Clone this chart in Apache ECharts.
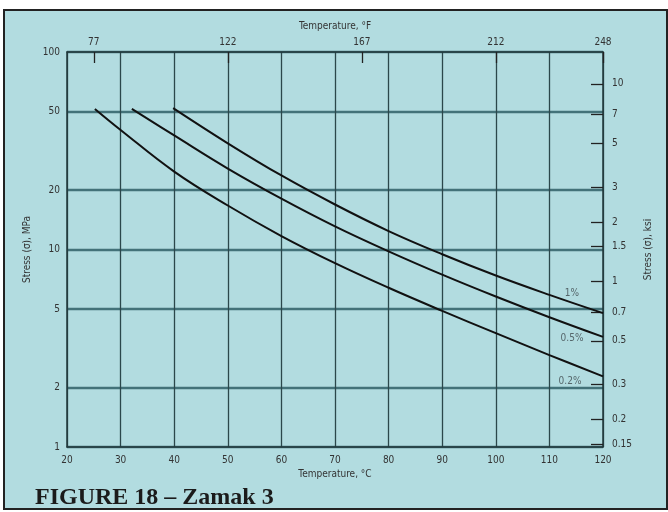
<!DOCTYPE html>
<html><head><meta charset="utf-8">
<script src="https://cdn.jsdelivr.net/npm/echarts@6/dist/echarts.min.js"></script>
<style>
html,body{margin:0;padding:0;background:#fff;}
#wrap{position:relative;width:668px;height:512px;overflow:hidden;}
#frame{position:absolute;left:3px;top:9px;width:661px;height:497px;background:#b2dce0;border:2px solid #222;}
#main{position:absolute;left:0;top:0;width:668px;height:512px;}
</style></head><body>
<div id="wrap"><div id="frame"></div><div id="main"></div></div>
<script>
// Temperature (°C) and stress (MPa) for each creep-strain curve
const temp1pct   = [39.8, 50, 60, 70, 80, 90, 100, 110, 120];
const stress1pct = [52, 34.5, 23.7, 16.9, 12.4, 9.46, 7.38, 5.89, 4.76];
const temp05pct   = [32.1, 40, 50, 60, 70, 80, 90, 100, 110, 120];
const stress05pct = [51.5, 37.8, 25.7, 18.1, 13.1, 9.79, 7.46, 5.78, 4.54, 3.61];
const temp02pct   = [25.2, 30, 40, 50, 60, 70, 80, 90, 100, 110, 120];
const stress02pct = [51.5, 40.3, 24.8, 16.7, 11.7, 8.53, 6.40, 4.89, 3.77, 2.92, 2.28];
const curveNames = ['1%', '0.5%', '0.2%'];
// Tick labels
const ticksMPa = [1, 2, 5, 10, 20, 50, 100];
const ticksKsi = [0.15, 0.2, 0.3, 0.5, 0.7, 1, 1.5, 2, 3, 5, 7, 10];
const ticksF = [77, 122, 167, 212, 248];
const MPA_PER_KSI = 6.895;

const FONT = "'Liberation Sans Narrow','DejaVu Sans Condensed','Liberation Sans',sans-serif";
const TXT = '#333';
const txt = (s) => ({fontFamily: FONT, fontSize: s, color: TXT});
const fmt = (v) => String(+(+v).toPrecision(3));

function pairs(t, s) { return t.map((x, i) => [x, s[i]]); }
const curves = [[temp1pct, stress1pct], [temp05pct, stress05pct], [temp02pct, stress02pct]];
const labelOffsets = [[-31, -20], [-31, 2], [-33, 5]];

const chart = echarts.init(document.getElementById('main'), null, {renderer: 'canvas'});
const option = {
  animation: false,
  backgroundColor: 'transparent',
  title: {
    text: 'FIGURE 18 – Zamak 3', left: 30, top: 481,
    textStyle: {fontFamily: "'Liberation Serif','DejaVu Serif',serif", fontWeight: 'bold', fontSize: 24, color: '#1b1b1b'}
  },
  grid: {left: 67, right: 65, top: 52, bottom: 65},
  xAxis: [
    {
      type: 'value', min: 20, max: 120, interval: 10, position: 'bottom',
      name: 'Temperature, °C', nameLocation: 'middle', nameGap: 20, nameTextStyle: txt(10),
      axisLine: {lineStyle: {color: '#22383b', width: 1.5}},
      axisTick: {show: false},
      axisLabel: Object.assign({margin: 8}, txt(10)),
      splitLine: {show: true, lineStyle: {color: '#2b474b', width: 1.3}}
    },
    {
      type: 'value', min: 68, max: 248, position: 'top',
      name: 'Temperature, °F', nameLocation: 'middle', nameGap: 21, nameTextStyle: txt(10),
      axisLine: {lineStyle: {color: '#22383b', width: 1.5}},
      axisTick: {show: true, inside: true, length: 11, customValues: ticksF, lineStyle: {color: '#222', width: 1.3}},
      axisLabel: Object.assign({margin: 5, customValues: ticksF}, txt(10)),
      splitLine: {show: false}
    }
  ],
  yAxis: [
    {
      type: 'log', logBase: 10, min: 1, max: 100, position: 'left',
      name: 'Stress (σ), MPa', nameLocation: 'middle', nameGap: 24, nameRotate: 90, nameTextStyle: txt(10),
      axisLine: {show: true, lineStyle: {color: '#22383b', width: 1.5}},
      axisTick: {show: false, customValues: ticksMPa},
      axisLabel: Object.assign({margin: 7, customValues: ticksMPa, formatter: fmt}, txt(10)),
      splitLine: {show: true, lineStyle: {color: '#437279', width: 2.4}},
      minorSplitLine: {show: false}
    },
    {
      type: 'log', logBase: 10, min: 1 / MPA_PER_KSI, max: 100 / MPA_PER_KSI, position: 'right',
      name: 'Stress (σ), ksi', nameLocation: 'middle', nameGap: 33, nameRotate: 90, nameTextStyle: txt(10),
      axisLine: {show: true, lineStyle: {color: '#22383b', width: 1.5}},
      axisTick: {show: true, inside: true, length: 12, customValues: ticksKsi, lineStyle: {color: '#222', width: 1.3}},
      axisLabel: Object.assign({margin: 9, customValues: ticksKsi, formatter: fmt}, txt(10)),
      splitLine: {show: false}
    }
  ],
  series: curves.map((c, i) => ({
    type: 'line', name: curveNames[i], xAxisIndex: 0, yAxisIndex: 0,
    data: pairs(c[0], c[1]), smooth: 0.4, showSymbol: false, symbol: 'none',
    lineStyle: {color: '#111', width: 2},
    z: 5,
    markPoint: {
      symbol: 'circle', symbolSize: 1, itemStyle: {color: 'rgba(0,0,0,0)'},
      label: {show: true, formatter: curveNames[i], offset: labelOffsets[i], fontFamily: FONT, fontSize: 10, color: '#56676b'},
      data: [{coord: [c[0][c[0].length - 1], c[1][c[1].length - 1]]}]
    }
  }))
};
chart.setOption(option);
</script>
</body></html>
